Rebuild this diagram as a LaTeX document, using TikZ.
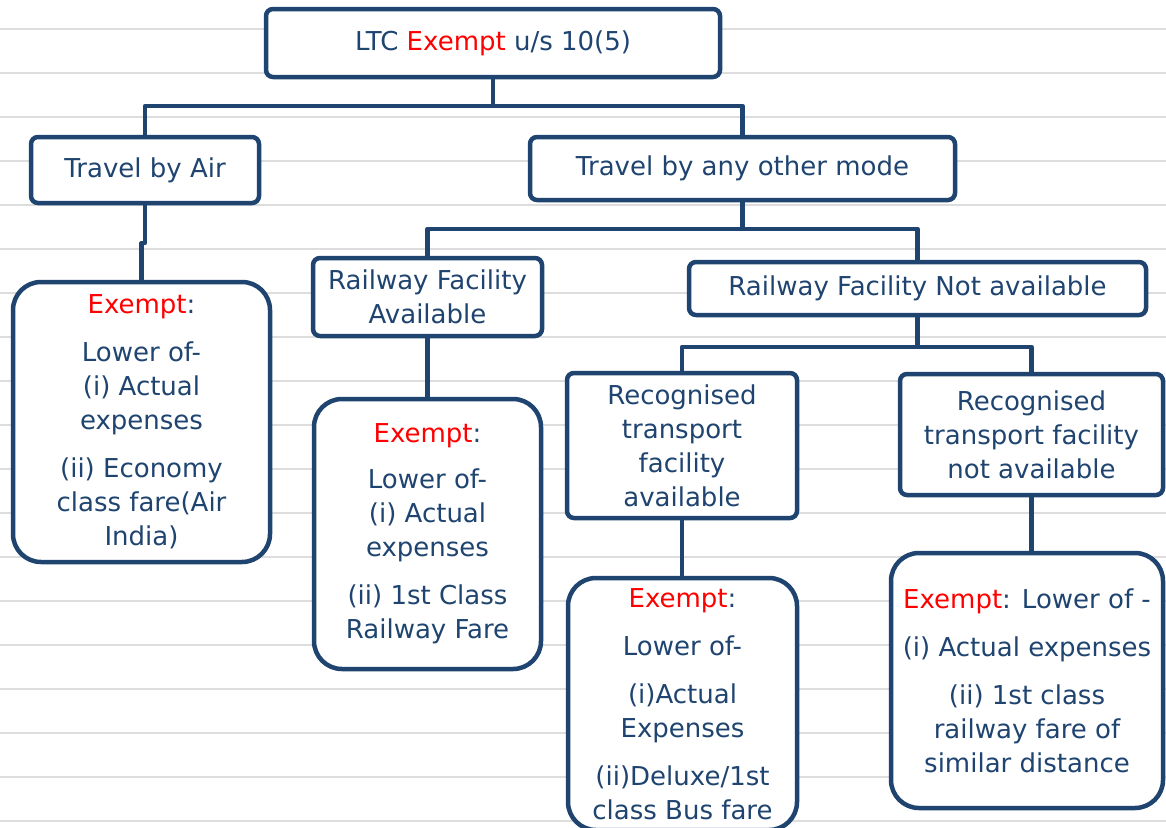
\documentclass[tikz,border=0pt]{standalone}
\usepackage{fontspec}
\setmainfont{DejaVu Sans}
\definecolor{navy}{HTML}{1F4470}
\definecolor{ruling}{HTML}{DDDDDD}
\begin{document}
\begin{tikzpicture}[x=1pt,y=-1pt,
  box/.style={draw=navy, line width=4.5pt, fill=white, rounded corners=7pt,
    inner sep=0pt, align=center, text=navy,
    font=\fontsize{26}{34}\selectfont},
  bigbox/.style={box, rounded corners=28pt},
  conn/.style={draw=navy, line width=4.5pt, line join=round},
  ex/.style={text=red}]
% page and ruled lines
\useasboundingbox (0,0) rectangle (1166,827);
\fill[white] (0,0) rectangle (1166,827);
\foreach \k in {0,...,18}
  \draw[ruling, line width=2.5pt] (0,29+44*\k) -- (1166,29+44*\k);

% boxes
\node[box, minimum width=454, minimum height=68] (root) at (493,43)
  {LTC \textcolor{red}{Exempt} u/s 10(5)};
\node[box, minimum width=228, minimum height=66] (air) at (145,170)
  {Travel by Air};
\node[box, minimum width=425, minimum height=63] (other) at (742.5,168.5)
  {Travel by any other mode};
\node[bigbox, minimum width=257, minimum height=280] (airex) at (141.5,422)
  {\textcolor{red}{Exempt}:\\[14pt] Lower of-\\ (i) Actual\\ expenses\\[14pt]
   (ii) Economy\\ class fare(Air\\ India)};
\node[box, minimum width=229, minimum height=78] (rfa) at (427.5,297)
  {Railway Facility\\ Available};
\node[bigbox, minimum width=227, minimum height=270] (rfaex) at (427.5,534)
  {\textcolor{red}{Exempt}:\\[12pt] Lower of-\\ (i) Actual\\ expenses\\[14pt]
   (ii) 1st Class\\ Railway Fare};
\node[box, minimum width=457, minimum height=53] (rfna) at (917.5,288.5)
  {Railway Facility Not available};
\node[box, minimum width=230, minimum height=145] (rta) at (682,445.5)
  {Recognised\\ transport\\ facility\\ available};
\node[box, minimum width=263, minimum height=121] (rtna) at (1031.5,434.5)
  {Recognised\\ transport facility\\ not available};
\node[bigbox, minimum width=229, minimum height=252] (rtaex) at (682.5,704)
  {\textcolor{red}{Exempt}:\\[14pt] Lower of-\\[14pt] (i)Actual\\ Expenses\\[14pt]
   (ii)Deluxe/1st\\ class Bus fare};
\node[bigbox, minimum width=272, minimum height=255] (rtnaex) at (1027,680.5)
  {\textcolor{red}{Exempt}: Lower of -\\[14pt] (i) Actual expenses\\[14pt]
   (ii) 1st class\\ railway fare of\\ similar distance};

% connectors
\coordinate (b1) at (0,106);
\draw[conn] (root.south) -- (root.south |- b1);
\draw[conn] (air.north) |- (other.north |- b1) -- (other.north);
\coordinate (jog) at (0,243);
\draw[conn] (air.south) -- (air.south |- jog) -| (airex.north);
\coordinate (b2) at (0,229);
\draw[conn] (other.south) -- (other.south |- b2);
\draw[conn] (rfa.north) |- (rfna.north |- b2) -- (rfna.north);
\draw[conn] (rfa.south) -- (rfaex.north);
\coordinate (b3) at (0,347);
\draw[conn] (rfna.south) -- (rfna.south |- b3);
\draw[conn] (rta.north) |- (rtna.north |- b3) -- (rtna.north);
\draw[conn] (rta.south) -- (rta.south |- rtaex.north);
\draw[conn] (rtna.south) -- (rtna.south |- rtnaex.north);
\end{tikzpicture}
\end{document}
